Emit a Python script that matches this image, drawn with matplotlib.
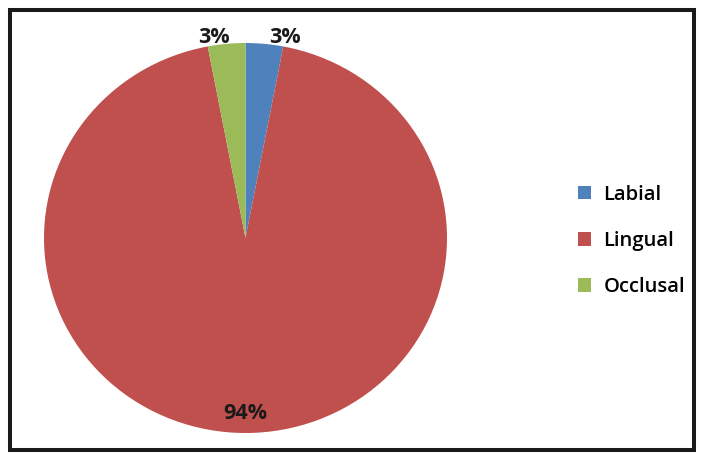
import matplotlib.pyplot as plt
from matplotlib.patches import Rectangle, Patch

# Data
categories = ["Labial", "Lingual", "Occlusal"]
values = [3, 94, 3]
pct_labels = ["3%", "94%", "3%"]

colors = ["#4F81BD", "#C0504D", "#9BBB59"]

W, H = 713, 459
fig = plt.figure(figsize=(W / 100, H / 100), dpi=100)

# pie axes: slightly stretched ellipse, x 44-447 px, y 43-433 px
x0, x1, y0, y1 = 44, 447, 43, 433
ax = fig.add_axes([x0 / W, (H - y1) / H, (x1 - x0) / W, (y1 - y0) / H])
wedges, _ = ax.pie(values, colors=colors, startangle=90, counterclock=False,
                   radius=1.0, wedgeprops=dict(linewidth=0))
ax.set_xlim(-1, 1)
ax.set_ylim(-1, 1)
ax.set_aspect("auto")
ax.axis("off")

# percentage labels (positions in radius units)
label_pos = [(0.196, 1.0), (0.0, -0.9), (-0.156, 1.0)]
for (lx, ly), txt in zip(label_pos, pct_labels):
    ax.text(lx, ly, txt, ha="center", va="baseline" if ly > 0 else "center",
            fontsize=15.5, fontweight="bold", color="#1a1a1a",
            family="Open Sans", clip_on=False)

# legend
handles = [Patch(facecolor=c, edgecolor="none") for c in colors]
fig.legend(handles, categories, loc="center left",
           bbox_to_anchor=(560 / W, 1 - 241 / H), frameon=False,
           handlelength=0.65, handleheight=0.65,
           handletextpad=0.6, labelspacing=1.3,
           prop=dict(family="Open Sans", weight="semibold", size=14.5))

# outer frame
fig.patches.append(Rectangle((10 / W, 1 - 450 / H), 684 / W, 440 / H,
                             transform=fig.transFigure, fill=False,
                             edgecolor="#1a1a1a", linewidth=2.9))

fig.savefig("out.png", dpi=100, facecolor="white")
